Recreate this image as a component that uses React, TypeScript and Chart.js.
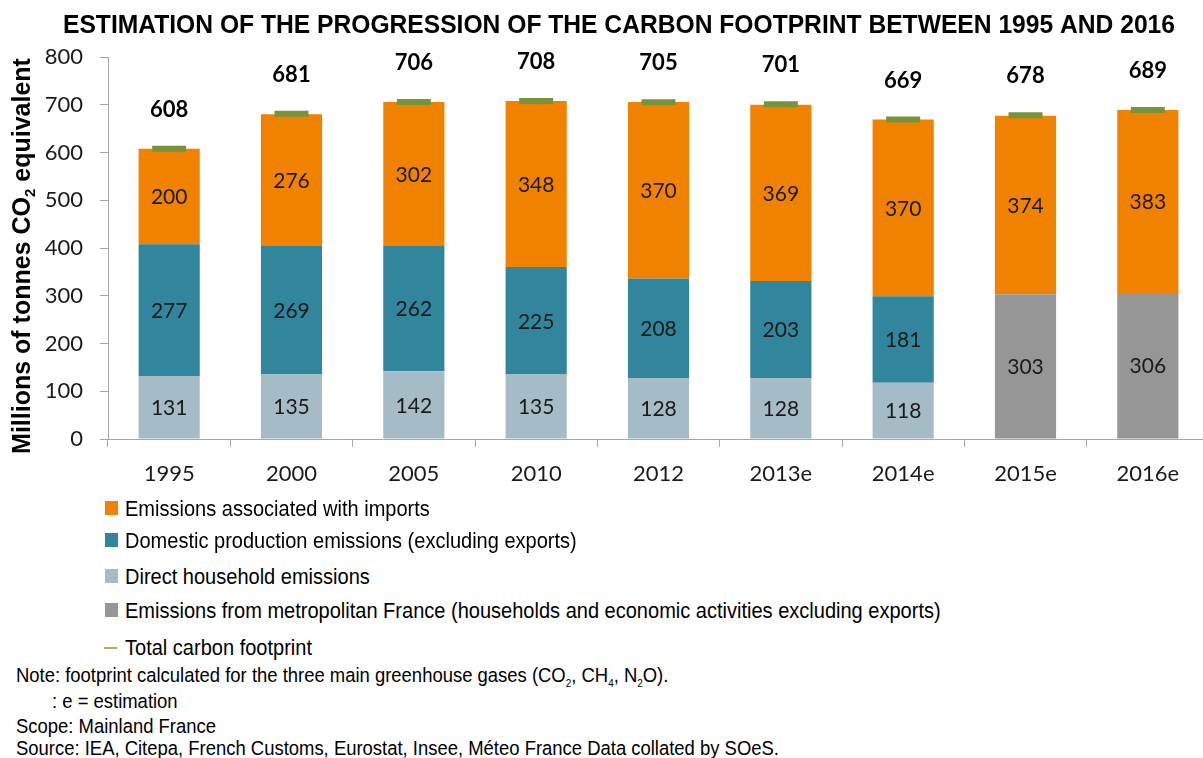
import React, { useEffect, useRef } from "react";
import { Chart, registerables } from "chart.js";

Chart.register(...registerables);

const categories = ["1995", "2000", "2005", "2010", "2012", "2013e", "2014e", "2015e", "2016e"];
const householdEmissions = [131, 135, 142, 135, 128, 128, 118, null, null];
const domesticEmissions = [277, 269, 262, 225, 208, 203, 181, null, null];
const metropolitanEmissions = [null, null, null, null, null, null, null, 303, 306];
const importEmissions = [200, 276, 302, 348, 370, 369, 370, 374, 383];
const totalFootprint = [608, 681, 706, 708, 705, 701, 669, 678, 689];
const yTicks = [0, 100, 200, 300, 400, 500, 600, 700, 800];

const TITLE = "ESTIMATION OF THE PROGRESSION OF THE CARBON FOOTPRINT BETWEEN 1995 AND 2016";
const Y_TITLE_A = "Millions of tonnes CO";
const Y_TITLE_SUB = "2";
const Y_TITLE_B = " equivalent";
const LABEL_FONT = "Lato, 'Open Sans', sans-serif";
const ARIAL = "'Liberation Sans', Arial, sans-serif";

const legendItems = [
  { label: "Emissions associated with imports", color: "#F08200", kind: "box", cy: 509 },
  { label: "Domestic production emissions (excluding exports)", color: "#31859C", kind: "box", cy: 541 },
  { label: "Direct household emissions", color: "#A5BCC6", kind: "box", cy: 577 },
  { label: "Emissions from metropolitan France (households and economic activities excluding exports)", color: "#969696", kind: "box", cy: 611 },
  { label: "Total carbon footprint", color: "#9BBB59", kind: "line", cy: 648 },
];

const labelPlugin = {
  id: "valueLabels",
  afterDatasetsDraw(chart: any) {
    const ctx = chart.ctx;
    ctx.save();
    ctx.textAlign = "center";
    ctx.textBaseline = "middle";
    chart.data.datasets.forEach((ds: any, i: number) => {
      const meta = chart.getDatasetMeta(i);
      if (meta.hidden) return;
      meta.data.forEach((el: any, j: number) => {
        const v = ds.data[j];
        if (v === null || v === undefined) return;
        if (ds.type === "line") {
          ctx.font = `bold 22px ${LABEL_FONT}`;
          ctx.fillStyle = "#000";
          ctx.fillText(String(v), el.x, el.y - 39);
        } else {
          const p = el.getProps(["x", "y", "base"], true);
          ctx.font = `21px ${LABEL_FONT}`;
          ctx.fillStyle = "#1a1a1a";
          ctx.fillText(String(v), p.x, (p.y + p.base) / 2 + 1);
        }
      });
    });
    ctx.restore();
  },
  afterDraw(chart: any) {
    const ctx = chart.ctx;
    // chart title
    ctx.save();
    ctx.font = `bold 25px ${ARIAL}`;
    ctx.fillStyle = "#000";
    ctx.textBaseline = "alphabetic";
    ctx.textAlign = "left";
    const w = ctx.measureText(TITLE).width;
    ctx.translate(63, 33);
    ctx.scale(1112 / w, 1);
    ctx.fillText(TITLE, 0, 0);
    ctx.restore();

    // y axis title with subscript
    const yScale = chart.scales.y;
    const cy = (yScale.top + yScale.bottom) / 2 + 8;
    ctx.save();
    ctx.fillStyle = "#000";
    ctx.textAlign = "left";
    ctx.textBaseline = "middle";
    const mainFont = `bold 25px ${ARIAL}`;
    const subFont = `bold 15px ${ARIAL}`;
    ctx.font = mainFont;
    const wa = ctx.measureText(Y_TITLE_A).width;
    const wb = ctx.measureText(Y_TITLE_B).width;
    ctx.font = subFont;
    const ws = ctx.measureText(Y_TITLE_SUB).width;
    const total = wa + ws + wb;
    ctx.translate(23, cy);
    ctx.rotate(-Math.PI / 2);
    let x = -total / 2;
    ctx.font = mainFont;
    ctx.fillText(Y_TITLE_A, x, 0);
    x += wa;
    ctx.font = subFont;
    ctx.fillText(Y_TITLE_SUB, x, 8);
    x += ws;
    ctx.font = mainFont;
    ctx.fillText(Y_TITLE_B, x, 0);
    ctx.restore();
  },
};

const noteStyle: React.CSSProperties = {
  position: "absolute",
  fontSize: 20.5,
  lineHeight: "22px",
  whiteSpace: "nowrap",
  transform: "scaleX(0.9)",
  transformOrigin: "left center",
};

export default function App() {
  const canvasRef = useRef<HTMLCanvasElement | null>(null);

  useEffect(() => {
    if (!canvasRef.current) return;
    const chart = new Chart(canvasRef.current, {
      type: "bar",
      data: {
        labels: categories,
        datasets: [
          {
            type: "line",
            label: "Total carbon footprint",
            data: totalFootprint,
            showLine: false,
            pointStyle: "line",
            pointRadius: 17,
            pointHoverRadius: 17,
            pointBorderWidth: 6,
            pointHoverBorderWidth: 6,
            pointBorderColor: "#77933C",
            pointBackgroundColor: "#77933C",
            borderColor: "#77933C",
            stack: "total",
            order: 0,
          } as any,
          { label: "Direct household emissions", data: householdEmissions, backgroundColor: "#A5BCC6", stack: "s", order: 1 },
          { label: "Domestic production emissions (excluding exports)", data: domesticEmissions, backgroundColor: "#31859C", stack: "s", order: 1 },
          { label: "Emissions from metropolitan France", data: metropolitanEmissions, backgroundColor: "#969696", stack: "s", order: 1 },
          { label: "Emissions associated with imports", data: importEmissions, backgroundColor: "#F08200", stack: "s", order: 1 },
        ] as any,
      },
      options: {
        animation: false,
        responsive: false,
        maintainAspectRatio: false,
        layout: { padding: { top: 57, left: 0, right: 0, bottom: 0 } },
        datasets: { bar: { barPercentage: 0.5, categoryPercentage: 1 } } as any,
        plugins: {
          legend: { display: false },
          tooltip: { enabled: false },
          title: { display: false },
        },
        scales: {
          x: {
            stacked: true,
            offset: true,
            grid: { offset: true, drawOnChartArea: false, drawTicks: true, tickLength: 8, color: "#A6A6A6" },
            border: { color: "#A6A6A6", width: 1 },
            ticks: { font: { family: LABEL_FONT, size: 22 }, color: "#1a1a1a", padding: 14, maxRotation: 0 },
            afterFit(scale: any) {
              scale.height = 61;
            },
          },
          y: {
            stacked: true,
            min: 0,
            max: 800,
            afterBuildTicks(scale: any) {
              scale.ticks = yTicks.map((v) => ({ value: v }));
            },
            grid: { drawOnChartArea: false, drawTicks: true, tickLength: 8, color: "#A6A6A6" },
            border: { color: "#A6A6A6", width: 1 },
            ticks: { font: { family: LABEL_FONT, size: 22 }, color: "#1a1a1a", padding: 17 },
            title: { display: false },
            afterFit(scale: any) {
              scale.width = 108;
            },
          },
        },
      },
      plugins: [labelPlugin],
    });
    return () => chart.destroy();
  }, []);

  return (
    <div
      style={{
        position: "absolute",
        left: 0,
        top: 0,
        width: 1203,
        height: 758,
        overflow: "hidden",
        background: "#fff",
        fontFamily: ARIAL,
        color: "#000",
      }}
    >
      <canvas ref={canvasRef} width={1232} height={500} style={{ display: "block", width: 1232, height: 500 }} />
      {legendItems.map((it) => (
        <div key={it.label} style={{ position: "absolute", left: 0, top: it.cy - 12, height: 24, width: 1203 }}>
          {it.kind === "box" ? (
            <div style={{ position: "absolute", left: 105, top: 4, width: 13, height: 14, background: it.color }} />
          ) : (
            <div style={{ position: "absolute", left: 104, top: 11, width: 13, height: 2, background: it.color }} />
          )}
          <div
            style={{
              position: "absolute",
              left: 125,
              top: 0,
              fontSize: 22,
              lineHeight: "24px",
              whiteSpace: "nowrap",
              transform: "scaleX(0.91)",
              transformOrigin: "left center",
            }}
          >
            {it.label}
          </div>
        </div>
      ))}
      <div style={{ ...noteStyle, left: 16, top: 664 }}>
        Note: footprint calculated for the three main greenhouse gases (CO<sub style={{ fontSize: 11 }}>2</sub>, CH
        <sub style={{ fontSize: 11 }}>4</sub>, N<sub style={{ fontSize: 11 }}>2</sub>O).
      </div>
      <div style={{ ...noteStyle, left: 52, top: 690 }}>: e = estimation</div>
      <div style={{ ...noteStyle, left: 16, top: 715 }}>Scope: Mainland France</div>
      <div style={{ ...noteStyle, left: 16, top: 737 }}>
        Source: IEA, Citepa, French Customs, Eurostat, Insee, Méteo France Data collated by SOeS.
      </div>
    </div>
  );
}
